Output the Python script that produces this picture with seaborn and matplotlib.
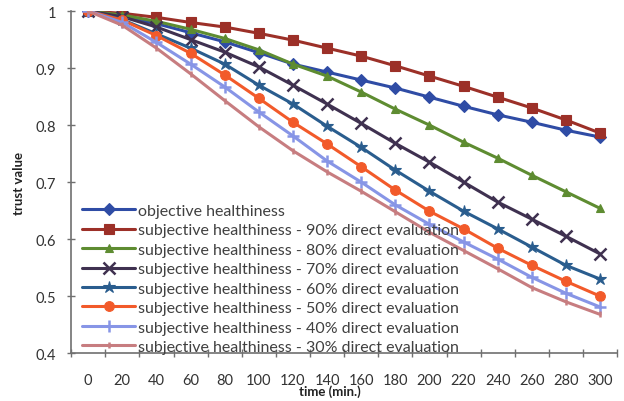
import numpy as np
import pandas as pd
import matplotlib
matplotlib.use("Agg")
import matplotlib.pyplot as plt
import seaborn as sns

time = [0, 20, 40, 60, 80, 100, 120, 140, 160, 180, 200, 220, 240, 260, 280, 300]
objective = [1.0, 0.990, 0.978, 0.962, 0.946, 0.927, 0.907, 0.893, 0.879, 0.865, 0.849, 0.833, 0.818, 0.805, 0.791, 0.779]
subj90 = [1.0, 0.996, 0.989, 0.980, 0.972, 0.961, 0.949, 0.935, 0.921, 0.904, 0.886, 0.868, 0.849, 0.830, 0.809, 0.786]
subj80 = [1.0, 0.993, 0.982, 0.968, 0.952, 0.932, 0.907, 0.886, 0.858, 0.828, 0.800, 0.770, 0.742, 0.712, 0.683, 0.654]
subj70 = [1.0, 0.990, 0.972, 0.950, 0.928, 0.902, 0.870, 0.837, 0.803, 0.768, 0.735, 0.700, 0.665, 0.635, 0.605, 0.574]
subj60 = [1.0, 0.985, 0.960, 0.935, 0.907, 0.870, 0.837, 0.798, 0.761, 0.721, 0.684, 0.649, 0.618, 0.586, 0.554, 0.530]
subj50 = [1.0, 0.984, 0.957, 0.926, 0.888, 0.847, 0.805, 0.767, 0.727, 0.686, 0.649, 0.618, 0.584, 0.554, 0.526, 0.500]
subj40 = [1.0, 0.980, 0.945, 0.907, 0.867, 0.823, 0.781, 0.737, 0.700, 0.660, 0.626, 0.595, 0.565, 0.533, 0.505, 0.481]
subj30 = [1.0, 0.975, 0.935, 0.890, 0.843, 0.797, 0.755, 0.718, 0.684, 0.648, 0.612, 0.580, 0.548, 0.515, 0.490, 0.468]

labels = [
    "objective healthiness",
    "subjective healthiness - 90% direct evaluation",
    "subjective healthiness - 80% direct evaluation",
    "subjective healthiness - 70% direct evaluation",
    "subjective healthiness - 60% direct evaluation",
    "subjective healthiness - 50% direct evaluation",
    "subjective healthiness - 40% direct evaluation",
    "subjective healthiness - 30% direct evaluation",
]
series = [objective, subj90, subj80, subj70, subj60, subj50, subj40, subj30]
colors = ["#2F4CA5", "#9C3028", "#5E8C31", "#3F3150", "#2A5D8E", "#F25A2A", "#8795E6", "#C77D80"]
markers = ["D", "s", "^", "x", "*", "o", "+", "|"]
msizes = [6, 7, 6, 8, 9, 7, 8, 5]

sns.set_theme(style="white")
plt.rcParams["font.family"] = ["Lato", "DejaVu Sans"]

fig = plt.figure(figsize=(6.24, 4.02), dpi=100)
ax = fig.add_axes([0.114, 0.119, 0.875, 0.851])

rows = []
for lab, vals in zip(labels, series):
    for t, v in zip(time, vals):
        rows.append({"time": t, "trust": v, "series": lab})
df = pd.DataFrame(rows)

for lab, vals, c, m, ms in zip(labels, series, colors, markers, msizes):
    sub = df[df["series"] == lab]
    sns.lineplot(data=sub, x="time", y="trust", ax=ax, color=c, marker=m,
                 markersize=ms, linewidth=2.2, label=lab,
                 markeredgecolor=c, markeredgewidth=1.8 if m in ("x", "+", "|") else 0.8)

ax.set_xlim(-10, 310)
ax.set_ylim(0.4, 1.0)
ax.set_yticks([0.4, 0.5, 0.6, 0.7, 0.8, 0.9, 1.0])
ax.set_yticklabels(["0.4", "0.5", "0.6", "0.7", "0.8", "0.9", "1"])
ax.set_xticks(np.arange(-10, 311, 20))
ax.set_xticklabels([])
ax.set_xticks(time, minor=True)
ax.set_xticklabels([str(t) for t in time], minor=True)
ax.tick_params(axis="x", which="major", direction="inout", length=6, width=1.0, color="#707070", bottom=True)
ax.tick_params(axis="x", which="minor", length=0, pad=14, labelsize=10.5, labelcolor="#333333")
ax.tick_params(axis="y", direction="inout", length=6, width=1.0, color="#707070", left=True,
               labelsize=10.5, labelcolor="#333333", pad=8)

for s in ["top", "right"]:
    ax.spines[s].set_visible(False)
for s in ["left", "bottom"]:
    ax.spines[s].set_color("#707070")
    ax.spines[s].set_linewidth(1.2)

ax.set_xlabel("time (min.)", fontsize=9.5, fontweight="bold", color="#222222")
ax.xaxis.set_label_coords(0.474, -0.092)
ax.set_ylabel("trust value", fontsize=9.5, fontweight="bold", color="#222222")
ax.yaxis.set_label_coords(-0.085, 0.5)

leg = ax.legend(loc="lower left", bbox_to_anchor=(0.0, -0.035), frameon=False,
                fontsize=11.5, handlelength=3.3, handletextpad=0.2,
                labelspacing=0.33, borderaxespad=0.3)
for txt in leg.get_texts():
    txt.set_color("#404040")

fig.savefig("out.png", dpi=100)
